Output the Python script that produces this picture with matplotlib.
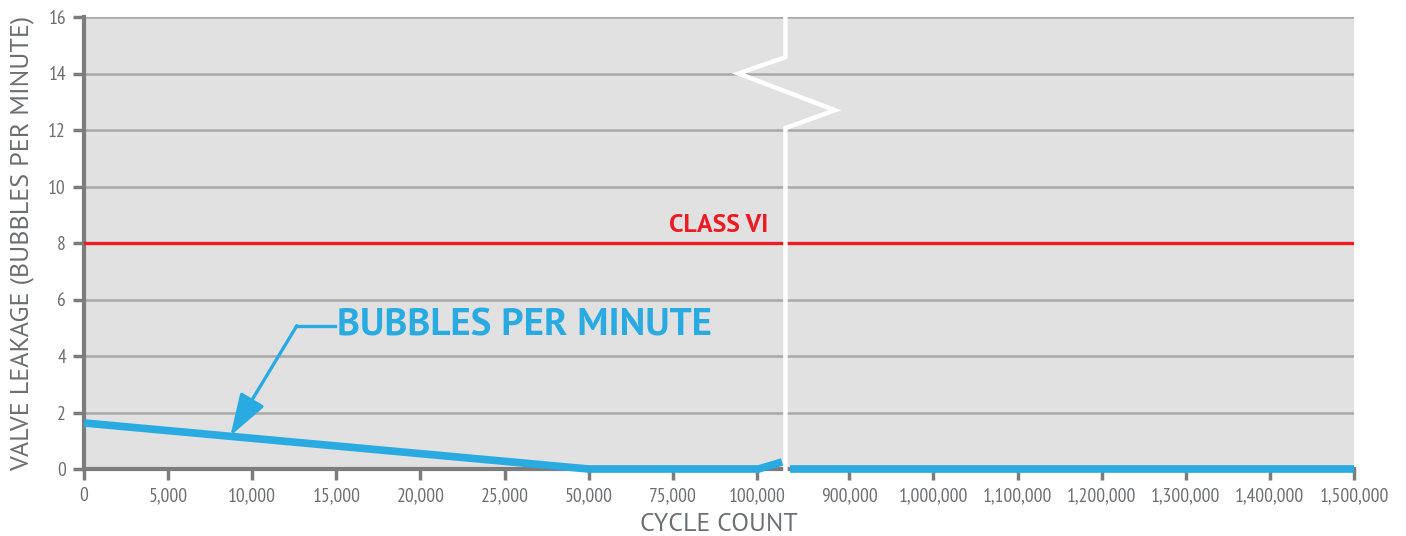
import numpy as np
import matplotlib
matplotlib.use("Agg")
import matplotlib.pyplot as plt

plt.rcParams["font.family"] = ["PT Sans", "Fira Sans", "DejaVu Sans"]
TICK_FONT = ["PT Sans Narrow", "PT Sans", "DejaVu Sans"]

# tick values on the broken x axis
LEFT_TICKS = [0, 5000, 10000, 15000, 20000, 25000, 50000, 75000, 100000]
RIGHT_TICKS = [900000, 1000000, 1100000, 1200000, 1300000, 1400000, 1500000]
RIGHT_LABELS = ["900,000", "1,000,000", "1,100,000", "1,200,000",
                "1,300,000", "1,400,000", "1,500,000"]
Y_TICKS = [0, 2, 4, 6, 8, 10, 12, 14, 16]

# bubbles per minute
leak_cycles_left = [0, 50000, 100500, 107500]
leak_left = [1.63, 0.0, 0.0, 0.25]
leak_cycles_right = [830000, 1500000]
leak_right = [0.0, 0.0]

CLASS_VI = 8

GAP = 1.1          # extra room between 100,000 and 900,000
BREAK_X = 8.34     # where the white break line sits
BLUE = "#29abe2"
RED = "#ec1c24"
GRAY_TXT = "#6d6e70"
SPINE = "#7c7c7c"


def left_pos(v):
    v = np.asarray(v, dtype=float)
    p = np.interp(v, LEFT_TICKS, np.arange(len(LEFT_TICKS)))
    over = v > LEFT_TICKS[-1]
    p[over] = len(LEFT_TICKS) - 1 + (v[over] - LEFT_TICKS[-1]) / 25000
    return p


def right_pos(v):
    v = np.asarray(v, dtype=float)
    return len(LEFT_TICKS) - 1 + GAP + (v - RIGHT_TICKS[0]) / 100000


fig = plt.figure(figsize=(14.06, 5.36), dpi=100)
ax = fig.add_axes([84 / 1406, 1 - 469 / 536, 1270 / 1406, 452 / 536])
ax.set_facecolor("#e1e1e1")

xmax = float(right_pos(RIGHT_TICKS[-1]))
ax.set_xlim(0, xmax)
ax.set_ylim(0, 16)

# grid lines
for y in Y_TICKS[1:]:
    ax.axhline(y, color="#a8a8a8", lw=1.8, zorder=1)

# class VI limit
ax.axhline(CLASS_VI, color=RED, lw=2.4, zorder=3)
ax.text(BREAK_X - 0.2, CLASS_VI + 0.22, "CLASS VI", color=RED, fontsize=18.5,
        fontweight="bold", ha="right", va="bottom", zorder=4)

# leakage line
ax.plot(left_pos(leak_cycles_left), leak_left, color=BLUE, lw=5.5,
        solid_capstyle="butt", zorder=5, clip_on=False)
ax.plot(right_pos(leak_cycles_right), leak_right, color=BLUE, lw=5.5,
        solid_capstyle="butt", zorder=5, clip_on=False)

# axis break (white zigzag)
bx = [BREAK_X, BREAK_X, BREAK_X - 0.56, BREAK_X + 0.59, BREAK_X, BREAK_X]
by = [16.2, 14.58, 14.0, 12.7, 12.07, -0.25]
ax.plot(bx, by, color="white", lw=3.2, zorder=10, clip_on=False,
        solid_joinstyle="miter")

# annotation
ax.annotate("", xy=(1.74, 1.17), xytext=(2.53, 5.07),
            arrowprops=dict(arrowstyle="-|>,head_length=2.6,head_width=0.85",
                            color=BLUE, lw=2.4, shrinkA=0, shrinkB=0),
            zorder=6)
ax.plot([2.52, 2.98], [5.07, 5.07], color=BLUE, lw=2.4, zorder=6)
ax.text(3.01, 5.07, "BUBBLES PER MINUTE", color=BLUE, fontsize=28,
        fontweight="bold", ha="left", va="center", zorder=6)

# ticks
xt = list(left_pos(LEFT_TICKS)) + list(right_pos(RIGHT_TICKS))
xl = [f"{v:,}" for v in LEFT_TICKS] + RIGHT_LABELS
ax.set_xticks(xt)
ax.set_xticklabels(xl, family=TICK_FONT)
ax.set_yticks(Y_TICKS)
ax.set_yticklabels([str(v) for v in Y_TICKS], family=TICK_FONT)
ax.tick_params(axis="both", colors=SPINE, labelcolor=GRAY_TXT, labelsize=14,
               width=2.5, length=8, direction="out", pad=5)

for s in ["top", "right"]:
    ax.spines[s].set_visible(False)
for s in ["left", "bottom"]:
    ax.spines[s].set_color(SPINE)
    ax.spines[s].set_linewidth(3)

ax.set_xlabel("CYCLE COUNT", color=GRAY_TXT, fontsize=18.5, labelpad=6)
ax.set_ylabel("VALVE LEAKAGE (BUBBLES PER MINUTE)", color=GRAY_TXT,
              fontsize=18.8, labelpad=10)

fig.savefig("out.png", dpi=100)
